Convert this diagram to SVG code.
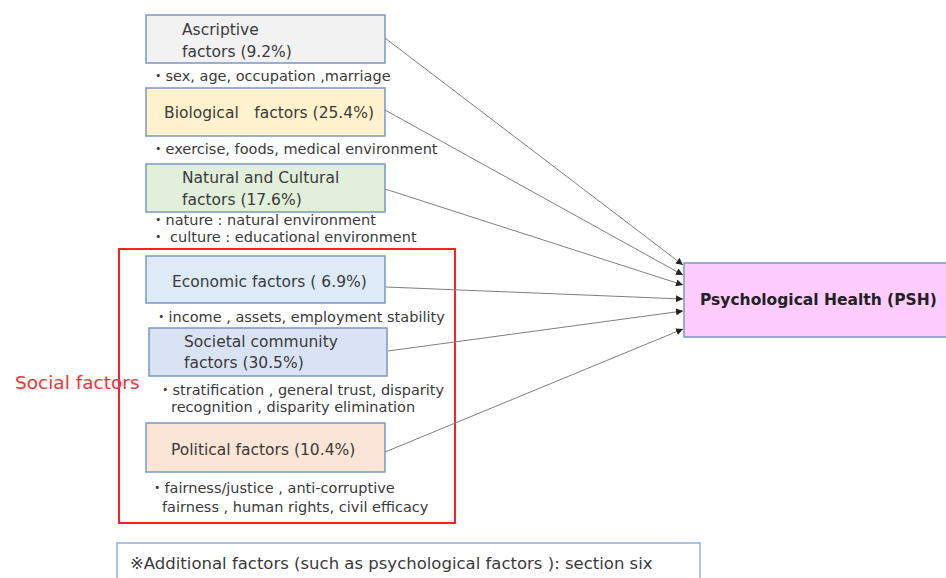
<svg xmlns="http://www.w3.org/2000/svg" width="946" height="578" viewBox="0 0 946 578">
<style>
.box{stroke:#7a96c8;stroke-width:1.5}
.t{font-family:"DejaVu Sans","Noto Sans CJK JP",sans-serif;font-size:15.5px;fill:#3a3a3a}
.n{font-family:"DejaVu Sans","Noto Sans CJK JP",sans-serif;font-size:14.5px;fill:#3a3a3a}
.conn{stroke:#7f7f7f;stroke-width:1;fill:none;marker-end:url(#ah)}
</style>
<defs>
<marker id="ah" viewBox="0 0 10 10" refX="10" refY="5" markerWidth="7" markerHeight="7" orient="auto" markerUnits="userSpaceOnUse">
<path d="M0,0 L10,5 L0,10 z" fill="#222"/>
</marker>
</defs>
<rect width="946" height="578" fill="#fff"/>
<g id="social-group">
<rect x="119" y="249" width="336" height="274" fill="none" stroke="#ff2020" stroke-width="2"/>
<text x="15" y="389" style="font-family:'DejaVu Sans','Noto Sans CJK JP',sans-serif;font-size:18.5px;fill:#ff3030">Social factors</text>
</g>
<g id="ascriptive">
<rect class="box" x="146" y="15" width="239" height="48" fill="#f2f2f2"/>
<text class="t" x="182" y="35">Ascriptive</text>
<text class="t" x="182" y="57">factors (9.2%)</text>
<text class="n" x="151" y="81">・sex, age, occupation ,marriage</text>
</g>
<g id="biological">
<rect class="box" x="146" y="88" width="239" height="48" fill="#fff2cc"/>
<text class="t" x="164" y="118">Biological　factors (25.4%)</text>
<text class="n" x="151" y="154">・exercise, foods, medical environment</text>
</g>
<g id="natural-cultural">
<rect class="box" x="146" y="164" width="239" height="48" fill="#e2efda"/>
<text class="t" x="182" y="183">Natural and Cultural</text>
<text class="t" x="182" y="205">factors (17.6%)</text>
<text class="n" x="151" y="225">・nature : natural environment</text>
<text class="n" x="151" y="242">・ culture : educational environment</text>
</g>
<g id="economic">
<rect class="box" x="146" y="256" width="239" height="47" fill="#deebf7"/>
<text class="t" x="172" y="287" xml:space="preserve">Economic factors ( 6.9%)</text>
<text class="n" x="154" y="322">・income , assets, employment stability</text>
</g>
<g id="societal">
<rect class="box" x="149" y="328" width="238" height="48" fill="#dae3f3"/>
<text class="t" x="184" y="347">Societal community</text>
<text class="t" x="184" y="368">factors (30.5%)</text>
<text class="n" x="158" y="395">・stratification , general trust, disparity</text>
<text class="n" x="171" y="412">recognition , disparity elimination</text>
</g>
<g id="political">
<rect class="box" x="146" y="423" width="239" height="49" fill="#fbe5d6"/>
<text class="t" x="171" y="455">Political factors (10.4%)</text>
<text class="n" x="150" y="493">・fairness/justice , anti-corruptive</text>
<text class="n" x="162" y="512">fairness , human rights, civil efficacy</text>
</g>
<g id="psh">
<rect class="box" x="684" y="263" width="270" height="74" fill="#ffccff"/>
<text x="700" y="305" style="font-family:'DejaVu Sans','Noto Sans CJK JP',sans-serif;font-size:15.5px;font-weight:bold;fill:#222">Psychological Health (PSH)</text>
</g>
<g id="note">
<rect x="117" y="543" width="583" height="45" fill="#fff" stroke="#8fb0e0" stroke-width="1.5"/>
<text x="130" y="569" style="font-family:'DejaVu Sans','Noto Sans CJK JP',sans-serif;font-size:16.5px;fill:#3a3a3a">※Additional factors (such as psychological factors ): section six</text>
</g>
<g id="connectors">
<line class="conn" x1="385" y1="38" x2="683" y2="265"/>
<line class="conn" x1="385" y1="110" x2="683" y2="275"/>
<line class="conn" x1="385" y1="189" x2="683" y2="285"/>
<line class="conn" x1="386" y1="287" x2="683" y2="299"/>
<line class="conn" x1="388" y1="351" x2="683" y2="311"/>
<line class="conn" x1="385" y1="452" x2="683" y2="329"/>
</g>
</svg>
